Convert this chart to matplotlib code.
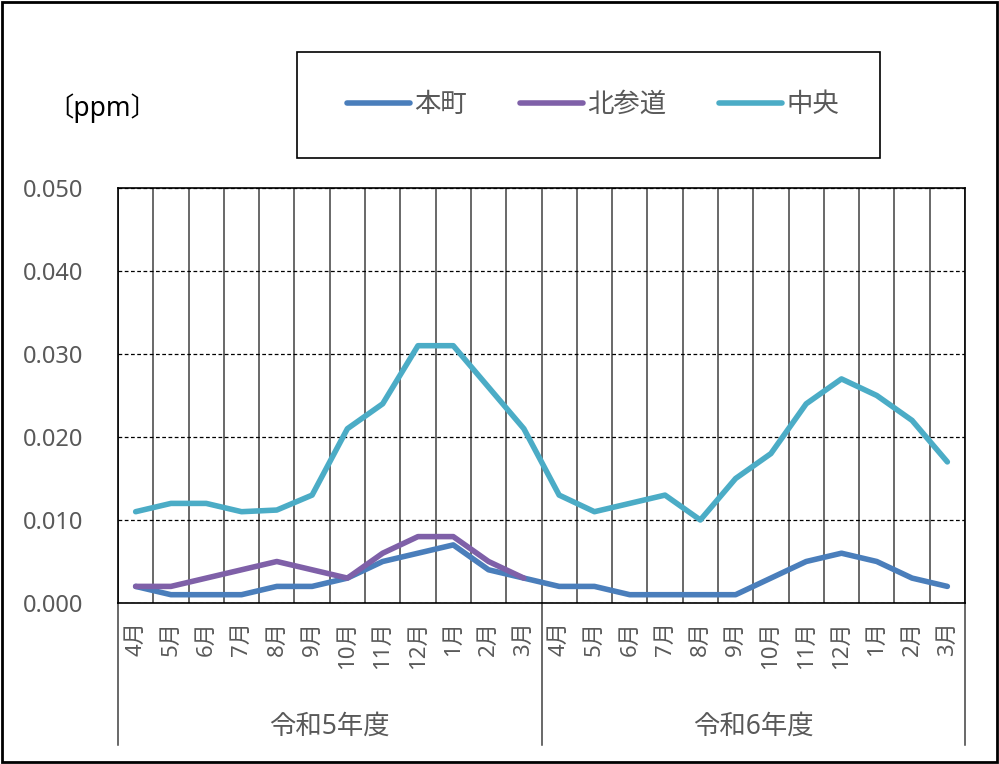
import numpy as np
import matplotlib
matplotlib.use("Agg")
import matplotlib.pyplot as plt
from matplotlib.patches import Rectangle
from matplotlib.lines import Line2D

plt.rcParams['font.family'] = ['Noto Sans', 'Noto Sans CJK JP', 'DejaVu Sans']

months = ['4月', '5月', '6月', '7月', '8月', '9月', '10月', '11月', '12月', '1月', '2月', '3月']
years = ['令和5年度', '令和6年度']

honmachi = [0.002, 0.001, 0.001, 0.001, 0.002, 0.002, 0.003, 0.005, 0.006, 0.007, 0.004, 0.003,
            0.002, 0.002, 0.001, 0.001, 0.001, 0.001, 0.003, 0.005, 0.006, 0.005, 0.003, 0.002]
kitasando = [0.002, 0.002, 0.003, 0.004, 0.005, 0.004, 0.003, 0.006, 0.008, 0.008, 0.005, 0.003]
chuo = [0.011, 0.012, 0.012, 0.011, 0.0112, 0.013, 0.021, 0.024, 0.031, 0.031, 0.026, 0.021,
        0.013, 0.011, 0.012, 0.013, 0.010, 0.015, 0.018, 0.024, 0.027, 0.025, 0.022, 0.017]

series_names = ['本町', '北参道', '中央']
colors = ['#4A7EBB', '#7F60A8', '#4BACC6']
text_col = '#595959'

W, H = 999, 764
fig = plt.figure(figsize=(W / 100, H / 100), dpi=100)
ax = fig.add_axes([118 / W, 1 - 603 / H, (965 - 118) / W, (603 - 188) / H])

n = len(honmachi)
x = np.arange(n)
lw = 4
ax.plot(x, honmachi, color=colors[0], lw=lw, solid_joinstyle='round', solid_capstyle='round', zorder=3)
ax.plot(x[:len(kitasando)], kitasando, color=colors[1], lw=lw, solid_joinstyle='round', solid_capstyle='round', zorder=4)
ax.plot(x, chuo, color=colors[2], lw=lw, solid_joinstyle='round', solid_capstyle='round', zorder=5)

ax.set_xlim(-0.5, n - 0.5)
ax.set_ylim(0, 0.05)

# y axis
yt = np.arange(0, 0.0501, 0.01)
ax.set_yticks(yt)
ax.set_yticklabels([f'{v:.3f}' for v in yt])
ax.tick_params(axis='y', length=0, pad=25, labelsize=17, labelcolor=text_col)
ax.yaxis.grid(True, color='black', linestyle=(0, (3, 2)), lw=0.9)

# x axis: labels at centres, grid between categories
ax.set_xticks(x)
ax.set_xticklabels(months * 2, rotation=90, va='top', ha='center')
ax.tick_params(axis='x', which='major', length=0, pad=13, labelsize=16, labelcolor=text_col)
ax.set_xticks(np.arange(-0.5, n, 1), minor=True)
ax.tick_params(axis='x', which='minor', length=0)
ax.xaxis.grid(True, which='minor', color='#404040', lw=1.1)
ax.set_axisbelow(True)
for s in ax.spines.values():
    s.set_color('black')
    s.set_linewidth(1.2)

# year groups
trans = ax.get_xaxis_transform()
for b in [-0.5, 11.5, 23.5]:
    ax.plot([b, b], [0, -(745 - 603) / (603 - 188)], transform=trans, color='#404040', lw=1.1, clip_on=False)
for i, yr in enumerate(years):
    ax.text(5.5 + 12 * i, -(727 - 603) / (603 - 188), yr, transform=trans, ha='center', va='center',
            fontsize=19, color=text_col)

# unit label
fig.text(102 / W, 1 - 108 / H, '〔ppm〕', ha='center', va='center', fontsize=19, color='black')

# legend
fig.patches.append(Rectangle((297 / W, 1 - 158 / H), (880 - 297) / W, (158 - 52) / H,
                             transform=fig.transFigure, fill=False, edgecolor='black', lw=1.2))
handles = [Line2D([], [], color=c, lw=lw, solid_capstyle='round') for c in colors]
fig.legend(handles, series_names, loc='center', bbox_to_anchor=(593 / W, 1 - 105 / H), ncol=3,
           frameon=False, fontsize=19, handlelength=2.4, handletextpad=0.15, columnspacing=2.0,
           labelcolor=text_col)

# chart border
fig.patches.append(Rectangle((0.002, 0.002), 0.996, 0.996, transform=fig.transFigure,
                             fill=False, edgecolor='black', lw=2))

fig.savefig('out.png', dpi=100)
